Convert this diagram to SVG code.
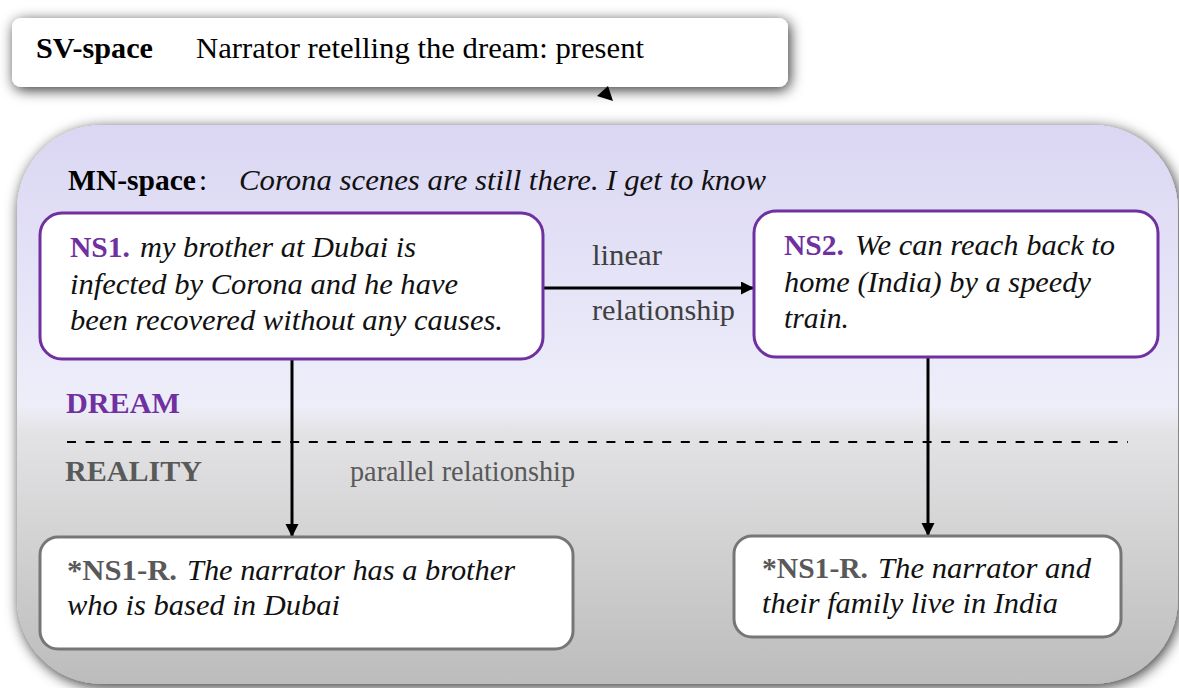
<svg xmlns="http://www.w3.org/2000/svg" width="1179" height="688" viewBox="0 0 1179 688">
<defs>
<linearGradient id="bg" x1="0" y1="0" x2="0" y2="1">
<stop offset="0" stop-color="#dad6f3"/>
<stop offset="0.5" stop-color="#eeeefa"/>
<stop offset="0.55" stop-color="#e3e3e5"/>
<stop offset="1" stop-color="#bcbcbc"/>
</linearGradient>
<filter id="sh" x="-10%" y="-40%" width="120%" height="180%">
<feDropShadow dx="2" dy="3" stdDeviation="7" flood-color="#000" flood-opacity="0.8"/>
</filter>
<marker id="ah" markerUnits="userSpaceOnUse" markerWidth="14" markerHeight="14" refX="13" refY="6.5" orient="auto">
<path d="M0,0 L13,6.5 L0,13 z" fill="#000"/>
</marker>
<style>
text{font-family:"Liberation Serif","Times New Roman",serif;font-size:29px;fill:#000}
.b{font-weight:bold}
.i{font-style:italic;fill:#111}
.pu{fill:#7030a0}
.gr{fill:#595959}
.lb{fill:#404040;font-size:29px}
.node{fill:#fff;stroke:#7030a0;stroke-width:3}
.rnode{fill:#fff;stroke:#767676;stroke-width:3}
.con{stroke:#000;stroke-width:3;fill:none}
</style>
</defs>

<g id="mn-space">
<rect x="17" y="125" width="1161" height="559" rx="85" fill="url(#bg)" filter="url(#sh)"/>
<text x="68" y="190" class="b" textLength="128" lengthAdjust="spacingAndGlyphs">MN-space</text>
<text x="199" y="190">:</text>
<text x="239" y="190" class="i" textLength="527" lengthAdjust="spacingAndGlyphs">Corona scenes are still there. I get to know</text>
<text x="66" y="413" class="b pu" textLength="114" lengthAdjust="spacingAndGlyphs">DREAM</text>
<text x="65" y="481" class="b gr" textLength="137" lengthAdjust="spacingAndGlyphs">REALITY</text>
<line x1="67" y1="442" x2="1128" y2="442" stroke="#000" stroke-width="2" stroke-dasharray="9,9.6"/>
</g>

<g id="sv-space">
<rect x="12" y="18" width="776" height="69" rx="9" fill="#fff" filter="url(#sh)"/>
<text x="36" y="58" class="b" font-size="28" textLength="117" lengthAdjust="spacingAndGlyphs">SV-space</text>
<text x="196" y="58" textLength="448" lengthAdjust="spacingAndGlyphs">Narrator retelling the dream: present</text>
</g>

<g id="connectors">
<path d="M597,96 L608,86 L613,101 z" fill="#000"/>
<line class="con" x1="543" y1="288" x2="754" y2="288" marker-end="url(#ah)"/>
<line class="con" x1="292" y1="359" x2="292" y2="537" marker-end="url(#ah)"/>
<line class="con" x1="928" y1="357" x2="928" y2="536" marker-end="url(#ah)"/>
<text x="592" y="265" class="lb" textLength="70" lengthAdjust="spacingAndGlyphs">linear</text>
<text x="592" y="320" class="lb" textLength="143" lengthAdjust="spacingAndGlyphs">relationship</text>
<text x="350" y="481" class="gr" font-size="26" textLength="225" lengthAdjust="spacingAndGlyphs">parallel relationship</text>
</g>

<g id="ns1">
<rect class="node" x="40" y="213" width="503" height="146" rx="22"/>
<text x="70" y="257" class="b pu" textLength="60" lengthAdjust="spacingAndGlyphs">NS1.</text>
<text x="140" y="257" class="i" textLength="276" lengthAdjust="spacingAndGlyphs">my brother at Dubai is</text>
<text x="70" y="294" class="i" textLength="388" lengthAdjust="spacingAndGlyphs">infected by Corona and he have</text>
<text x="70" y="330" class="i" textLength="433" lengthAdjust="spacingAndGlyphs">been recovered without any causes.</text>
</g>

<g id="ns2">
<rect class="node" x="754" y="211" width="404" height="146" rx="22"/>
<text x="784" y="255" class="b pu" textLength="60" lengthAdjust="spacingAndGlyphs">NS2.</text>
<text x="855" y="255" class="i" textLength="260" lengthAdjust="spacingAndGlyphs">We can reach back to</text>
<text x="784" y="292" class="i" textLength="307" lengthAdjust="spacingAndGlyphs">home (India) by a speedy</text>
<text x="784" y="328" class="i" textLength="65" lengthAdjust="spacingAndGlyphs">train.</text>
</g>

<g id="ns1-r-left">
<rect class="rnode" x="40" y="537" width="533" height="112" rx="18"/>
<text x="67" y="580" class="b gr" textLength="110" lengthAdjust="spacingAndGlyphs">*NS1-R.</text>
<text x="187" y="580" class="i" textLength="328" lengthAdjust="spacingAndGlyphs">The narrator has a brother</text>
<text x="67" y="615" class="i" textLength="273" lengthAdjust="spacingAndGlyphs">who is based in Dubai</text>
</g>

<g id="ns1-r-right">
<rect class="rnode" x="734" y="536" width="387" height="101" rx="18"/>
<text x="762" y="578" class="b gr" textLength="106" lengthAdjust="spacingAndGlyphs">*NS1-R.</text>
<text x="878" y="578" class="i" textLength="213" lengthAdjust="spacingAndGlyphs">The narrator and</text>
<text x="762" y="613" class="i" textLength="296" lengthAdjust="spacingAndGlyphs">their family live in India</text>
</g>
</svg>
